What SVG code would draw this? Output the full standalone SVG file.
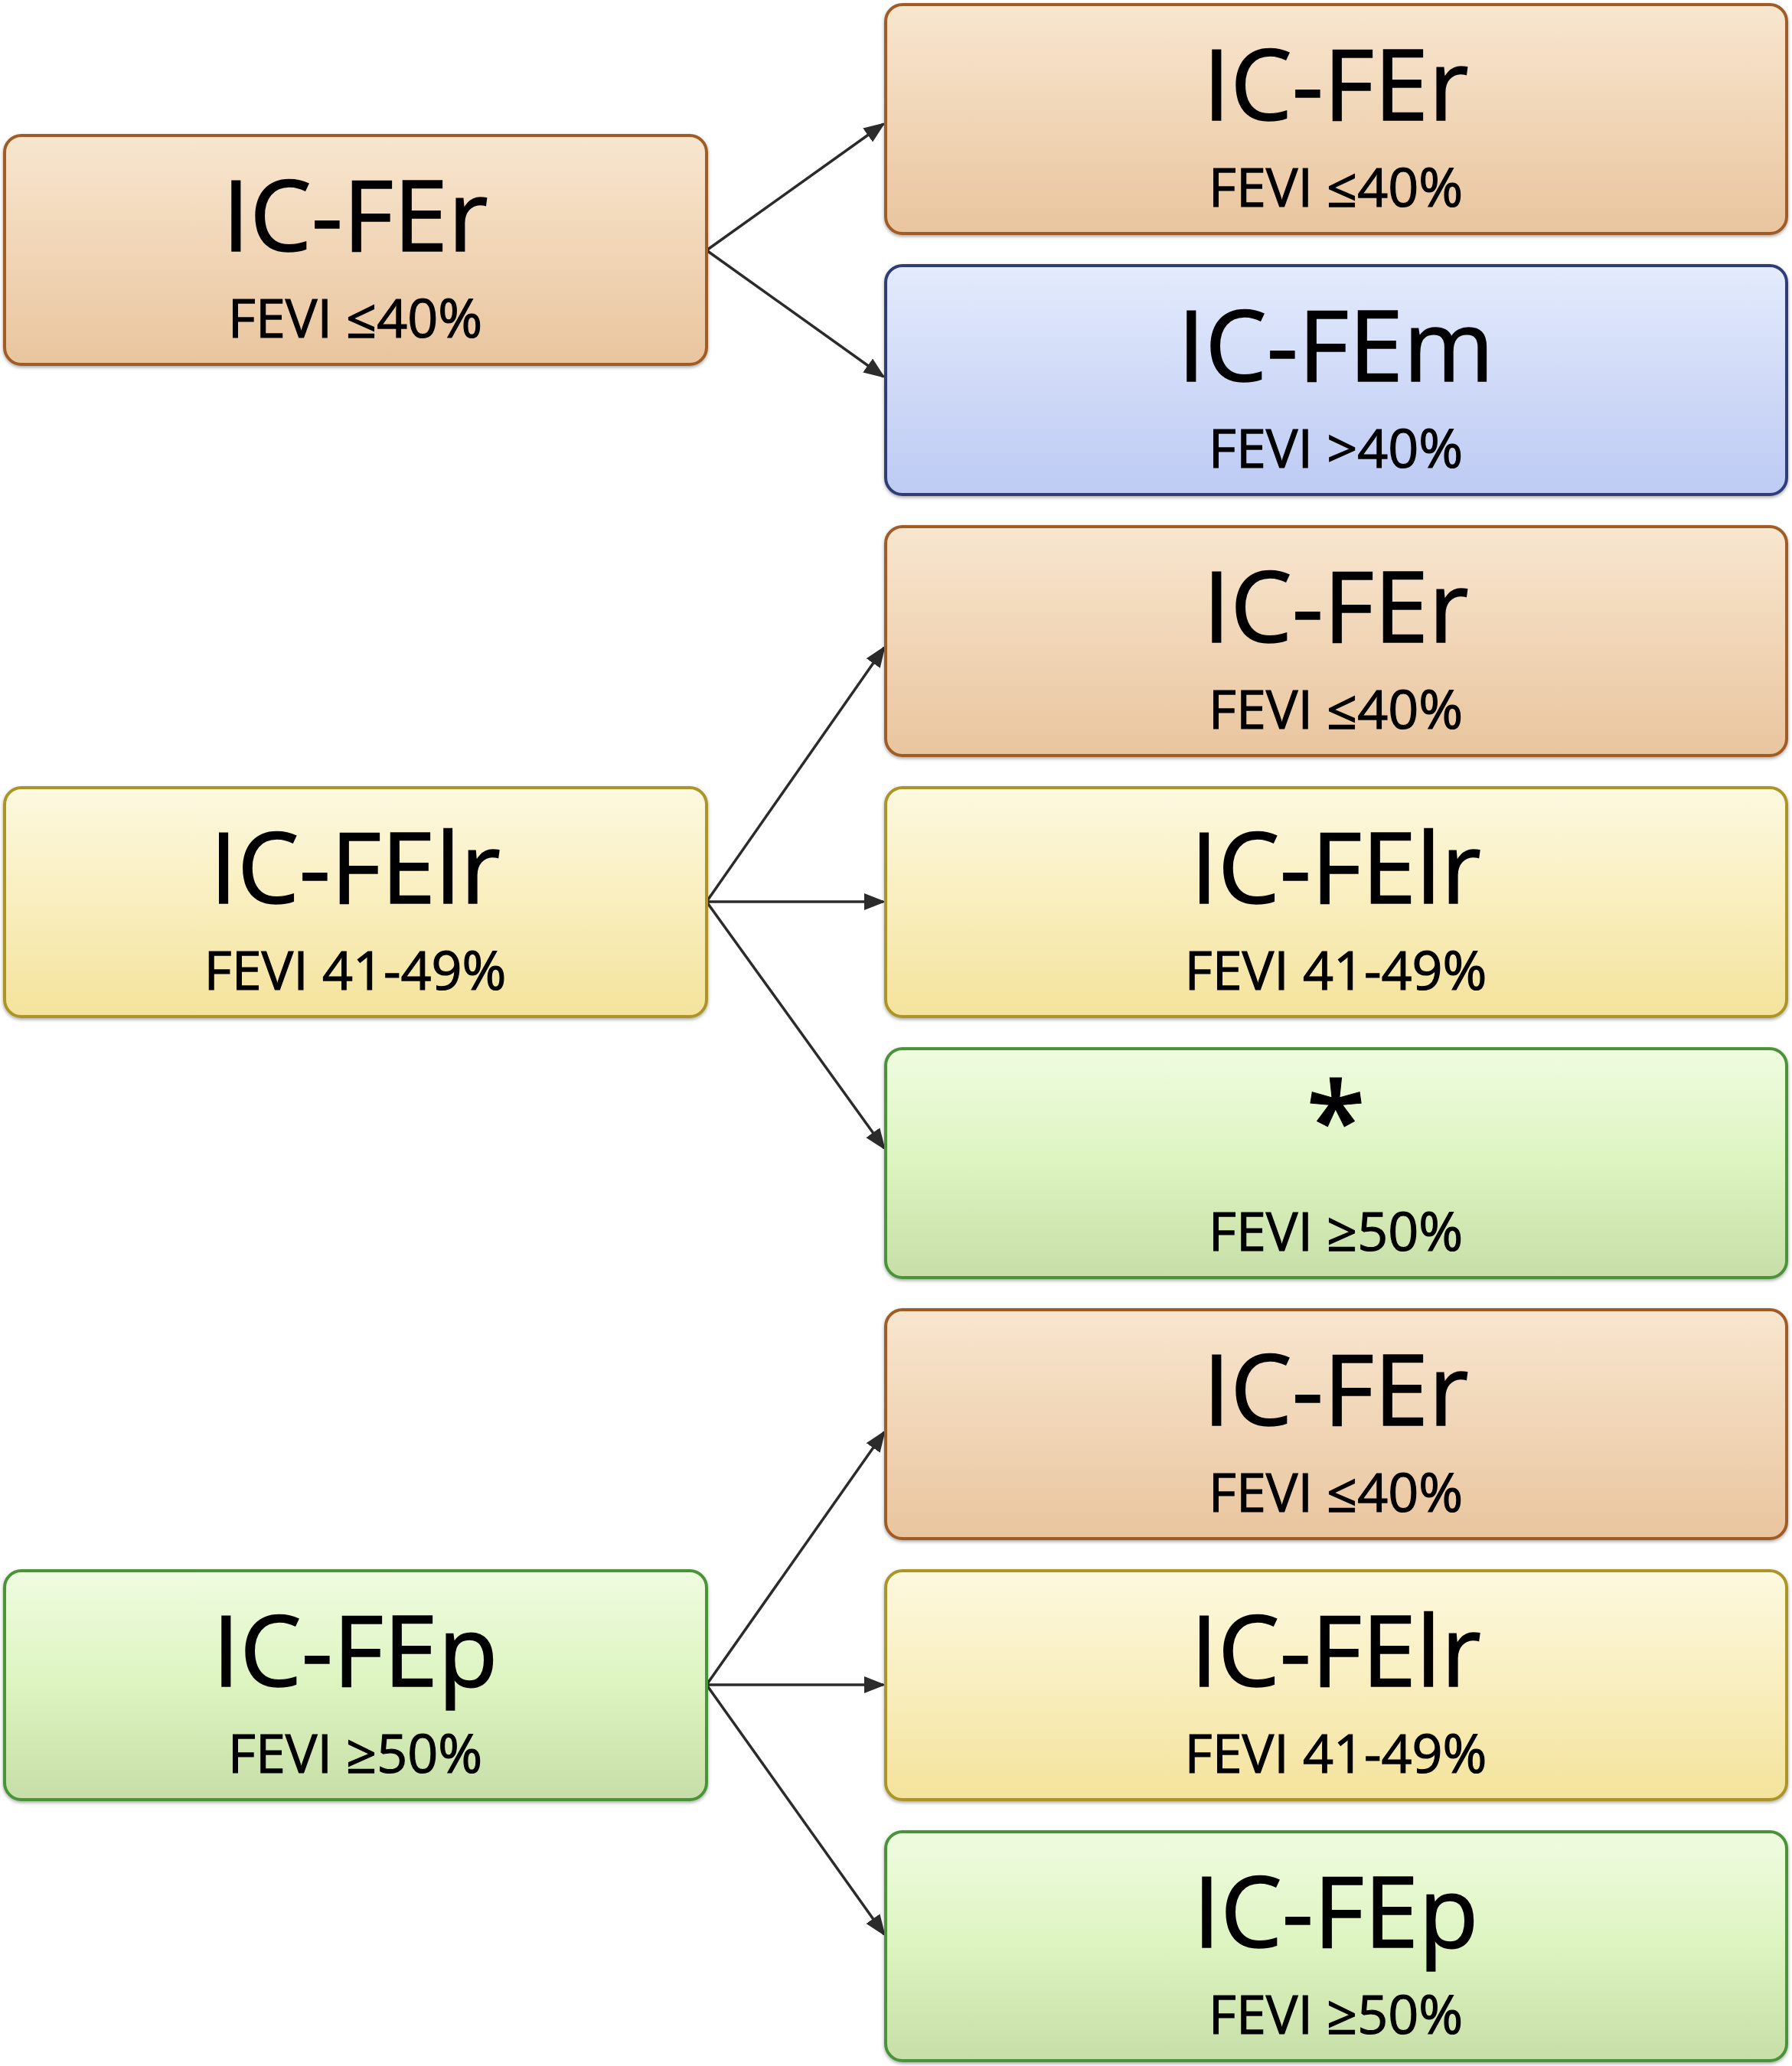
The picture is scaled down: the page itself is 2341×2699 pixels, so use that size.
<svg xmlns="http://www.w3.org/2000/svg" width="2341" height="2699" viewBox="0 0 2341 2699">
<defs>
<linearGradient id="gOr" x1="0" y1="0" x2="0" y2="1"><stop offset="0" stop-color="#f8e6cf"/><stop offset="1" stop-color="#e9c59e"/></linearGradient>
<linearGradient id="gBl" x1="0" y1="0" x2="0" y2="1"><stop offset="0" stop-color="#e3ebfc"/><stop offset="1" stop-color="#bdcaf3"/></linearGradient>
<linearGradient id="gYe" x1="0" y1="0" x2="0" y2="1"><stop offset="0" stop-color="#fdf9e0"/><stop offset="1" stop-color="#f4e39c"/></linearGradient>
<linearGradient id="gGr" x1="0" y1="0" x2="0" y2="1"><stop offset="0" stop-color="#effce0"/><stop offset="0.5" stop-color="#ddf4c0"/><stop offset="1" stop-color="#c7dea8"/></linearGradient>
<filter id="sh" x="-5%" y="-5%" width="110%" height="115%"><feDropShadow dx="0" dy="2" stdDeviation="2" flood-color="#000" flood-opacity="0.35"/></filter>
<marker id="ah" markerUnits="userSpaceOnUse" markerWidth="30" markerHeight="24" refX="25" refY="11" orient="auto"><path d="M0,0 L28,11 L0,22 z" fill="#2b2b2b"/></marker>
</defs>
<style>
.box{stroke-width:4;filter:url(#sh)}
.or{fill:url(#gOr);stroke:#a05b25}
.bl{fill:url(#gBl);stroke:#2e3d78}
.ye{fill:url(#gYe);stroke:#ad9426}
.gr{fill:url(#gGr);stroke:#489338}
.t{font-family:"Open Sans","Liberation Sans",sans-serif;fill:#000;stroke:#000;text-anchor:middle}
.t1{font-size:128px;stroke-width:1.5}
.t2{font-size:70px;stroke-width:1.2}
.ast{font-size:140px;font-weight:600;stroke-width:1}
.c{stroke:#2b2b2b;stroke-width:3.5;fill:none;marker-end:url(#ah)}
</style>
<g id="connectors">
<line class="c" x1="923" y1="327" x2="1154" y2="162"/>
<line class="c" x1="923" y1="327" x2="1154" y2="492"/>
<line class="c" x1="923" y1="1178" x2="1155" y2="846"/>
<line class="c" x1="923" y1="1178" x2="1154" y2="1178"/>
<line class="c" x1="923" y1="1178" x2="1155" y2="1500"/>
<line class="c" x1="923" y1="2201" x2="1155" y2="1871"/>
<line class="c" x1="923" y1="2201" x2="1154" y2="2201"/>
<line class="c" x1="923" y1="2201" x2="1155" y2="2527"/>
</g>
<g id="L1"><rect class="box or" x="6" y="177" width="917" height="299" rx="22"/><text class="t t1" x="464" y="328">IC-FEr</text><text class="t t2" x="464" y="441">FEVI ≤40%</text></g>
<g id="L2"><rect class="box ye" x="6" y="1029" width="917" height="299" rx="22"/><text class="t t1" x="464" y="1180">IC-FElr</text><text class="t t2" x="464" y="1293">FEVI 41-49%</text></g>
<g id="L3"><rect class="box gr" x="6" y="2052" width="917" height="299" rx="22"/><text class="t t1" x="464" y="2203">IC-FEp</text><text class="t t2" x="464" y="2316">FEVI ≥50%</text></g>
<g id="R1"><rect class="box or" x="1157" y="6" width="1177" height="299" rx="22"/><text class="t t1" x="1745" y="157">IC-FEr</text><text class="t t2" x="1745" y="270">FEVI ≤40%</text></g>
<g id="R2"><rect class="box bl" x="1157" y="347" width="1177" height="299" rx="22"/><text class="t t1" x="1745" y="498">IC-FEm</text><text class="t t2" x="1745" y="611">FEVI &gt;40%</text></g>
<g id="R3"><rect class="box or" x="1157" y="688" width="1177" height="299" rx="22"/><text class="t t1" x="1745" y="839">IC-FEr</text><text class="t t2" x="1745" y="952">FEVI ≤40%</text></g>
<g id="R4"><rect class="box ye" x="1157" y="1029" width="1177" height="299" rx="22"/><text class="t t1" x="1745" y="1180">IC-FElr</text><text class="t t2" x="1745" y="1293">FEVI 41-49%</text></g>
<g id="R5"><rect class="box gr" x="1157" y="1370" width="1177" height="299" rx="22"/><text class="t ast" x="1745" y="1514">*</text><text class="t t2" x="1745" y="1634">FEVI ≥50%</text></g>
<g id="R6"><rect class="box or" x="1157" y="1711" width="1177" height="299" rx="22"/><text class="t t1" x="1745" y="1862">IC-FEr</text><text class="t t2" x="1745" y="1975">FEVI ≤40%</text></g>
<g id="R7"><rect class="box ye" x="1157" y="2052" width="1177" height="299" rx="22"/><text class="t t1" x="1745" y="2203">IC-FElr</text><text class="t t2" x="1745" y="2316">FEVI 41-49%</text></g>
<g id="R8"><rect class="box gr" x="1157" y="2393" width="1177" height="299" rx="22"/><text class="t t1" x="1745" y="2544">IC-FEp</text><text class="t t2" x="1745" y="2657">FEVI ≥50%</text></g>
</svg>
